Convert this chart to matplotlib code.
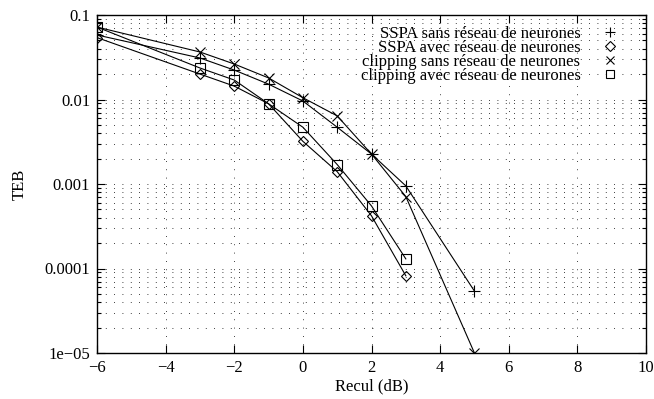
import matplotlib
matplotlib.use('Agg')
import matplotlib.pyplot as plt
from matplotlib.lines import Line2D
from matplotlib.ticker import LogLocator, NullFormatter, FixedLocator

# recul en dB
recul = [-6, -3, -2, -1, 0, 1, 2, 3, 5]
recul_nn = [-6, -3, -2, -1, 0, 1, 2, 3]

sspa_sans = [0.058, 0.031, 0.0223, 0.0152, 0.0096, 0.0047, 0.00226, 0.00095, 0.000054]
sspa_avec = [0.054, 0.020, 0.0144, 0.0089, 0.0032, 0.0014, 0.00042, 0.000082]
clip_sans = [0.072, 0.0365, 0.0263, 0.018, 0.0105, 0.0064, 0.00226, 0.00071, 0.00001]
clip_avec = [0.072, 0.0236, 0.017, 0.0089, 0.0047, 0.0017, 0.00055, 0.00013]

labels = ['SSPA sans réseau de neurones', 'SSPA avec réseau de neurones',
          'clipping sans réseau de neurones', 'clipping avec réseau de neurones']

plt.rcParams['font.family'] = ['Liberation Serif', 'DejaVu Serif']
plt.rcParams['font.size'] = 12

fig = plt.figure(figsize=(6.54, 3.99), dpi=100)
ax = fig.add_axes([97 / 654, 1 - 353 / 399, (646 - 97) / 654, (353 - 15) / 399])

lw = 0.8
ax.plot(recul, sspa_sans, color='black', lw=lw, marker='+', ms=8, mew=0.8)
ax.plot(recul_nn, sspa_avec, color='black', lw=lw, marker='D', ms=5, mew=0.8, mfc='none')
ax.plot(recul, clip_sans, color='black', lw=lw, marker='x', ms=7, mew=0.8)
ax.plot(recul_nn, clip_avec, color='black', lw=lw, marker='s', ms=7, mew=0.8, mfc='none')

ax.set_yscale('log')
ax.set_xlim(-6, 10)
ax.set_ylim(1e-5, 0.1)

ax.xaxis.set_major_locator(FixedLocator(range(-6, 11, 2)))
ax.set_xticklabels(['\u22126', '\u22124', '\u22122', '0', '2', '4', '6', '8', '10'])
ax.yaxis.set_major_locator(FixedLocator([1e-5, 1e-4, 1e-3, 1e-2, 1e-1]))
ax.set_yticklabels(['1e\u221205', '0.0001', '0.001', '0.01', '0.1'])
ax.yaxis.set_minor_locator(LogLocator(base=10, subs=range(2, 10), numticks=20))
ax.yaxis.set_minor_formatter(NullFormatter())

ax.tick_params(which='both', direction='in', top=True, right=True, width=0.8)
ax.tick_params(which='major', length=6, pad=5)
ax.tick_params(which='minor', length=3)

ax.grid(True, which='major', axis='x', color='black', lw=0.6, linestyle=(0, (1, 9)))
ax.grid(True, which='both', axis='y', color='black', lw=0.6, linestyle=(0, (1, 9)))

for s in ax.spines.values():
    s.set_linewidth(1.0)

ax.set_xlabel('Recul (dB)', labelpad=2)
ax.set_ylabel('TEB', labelpad=12)

handles = [
    Line2D([], [], color='black', linestyle='none', marker='+', ms=7, mew=0.8),
    Line2D([], [], color='black', linestyle='none', marker='D', ms=5, mew=0.8, mfc='none'),
    Line2D([], [], color='black', linestyle='none', marker='x', ms=6, mew=0.8),
    Line2D([], [], color='black', linestyle='none', marker='s', ms=6, mew=0.8, mfc='none'),
]
leg = ax.legend(handles, labels, loc='upper right', frameon=False, markerfirst=False,
                bbox_to_anchor=(1 - 13 / 549, 1.0),
                handlelength=1.5, handletextpad=1.0, labelspacing=-0.12,
                borderaxespad=0.25, fontsize=12)
for t in leg.get_texts():
    t.set_ha('right')

fig.savefig('out.png', dpi=100)
